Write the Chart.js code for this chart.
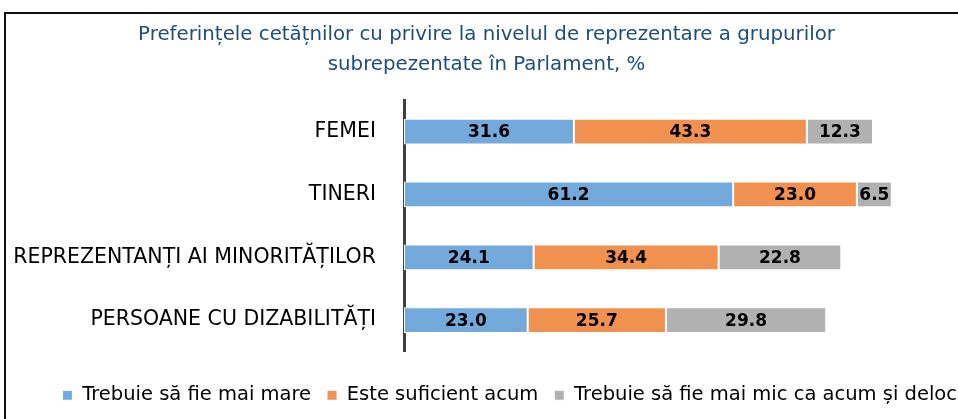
<!DOCTYPE html>
<html>
<head>
<meta charset="utf-8">
<script src="https://cdn.jsdelivr.net/npm/chart.js@4.4.1/dist/chart.umd.min.js"></script>
<style>
  body { margin: 0; background: #fff; }
  #wrap { position: relative; width: 958px; height: 419px; overflow: hidden; }
  #frame { position: absolute; left: 4px; top: 12px; width: 970px; height: 430px; border: 2px solid #111; box-sizing: border-box; }
  canvas { position: absolute; left: 0; top: 0; }
</style>
</head>
<body>
<div id="wrap">
  <div id="frame"></div>
  <canvas id="chart" width="958" height="419"></canvas>
</div>
<script>
'use strict';

// data

let categories = ['FEMEI', 'TINERI', 'REPREZENTANȚI AI MINORITĂȚILOR', 'PERSOANE CU DIZABILITĂȚI'];

let seriesNames = ['Trebuie să fie mai mare', 'Este suficient acum', 'Trebuie să fie mai mic ca acum și deloc'];

let moreValues = [31.6, 61.2, 24.1, 23.0];
let enoughValues = [43.3, 23.0, 34.4, 25.7];
let lessValues = [12.3, 6.5, 22.8, 29.8];

let seriesColors = ['#74A9DB', '#F09150', '#B1B1B1'];

let titleLines = ['Preferințele cetățnilor cu privire la nivelul de reprezentare a grupurilor', 'subrepezentate în Parlament, %'];

let canvasElem = document.getElementById('chart');

let fontName = 'DejaVu Sans';

// draws the numbers inside each bar segment
let barLabels = {
  id: 'barLabels',
  afterDatasetsDraw(chart) {
    let ctx = chart.ctx;
    ctx.save();
    ctx.font = 'bold 17px "' + fontName + '"';
    ctx.fillStyle = '#000';
    ctx.textAlign = 'center';
    ctx.textBaseline = 'middle';
    chart.data.datasets.forEach((ds, i) => {
      let meta = chart.getDatasetMeta(i);
      meta.data.forEach((bar, j) => {
        let cx = (bar.x + bar.base) / 2;
        ctx.fillText(ds.data[j].toFixed(1), cx, bar.y + 1);
      });
    });
    ctx.restore();
  }
};

let allValues = [moreValues, enoughValues, lessValues];
let datasets = [];
for (let i = 0; i < seriesNames.length; i++) {
  datasets.push({
    label: seriesNames[i],
    data: allValues[i],
    backgroundColor: seriesColors[i],
    borderColor: '#fff',
    borderWidth: 1,
    borderSkipped: false,
    categoryPercentage: 1,
    barPercentage: 0.41
  });
}

let chartObj = {
  type: 'bar',
  data: {
    labels: categories,
    datasets: datasets
  },
  options: {
    indexAxis: 'y',
    responsive: false,
    animation: false,
    layout: {
      // negative right padding lets the legend sit against the right edge
      padding: { left: 0, right: -15, top: 0, bottom: 4 }
    },
    scales: {
      x: {
        stacked: true,
        min: 0,
        max: 103,
        grid: { display: false },
        border: { display: false },
        ticks: { display: false },
        afterFit(scale) {
          scale.height = 18;
        }
      },
      y: {
        stacked: true,
        grid: { display: false, drawTicks: false },
        border: { display: true, color: '#404040', width: 3 },
        ticks: {
          color: '#000',
          font: { family: fontName, size: 20.5 },
          padding: 28
        },
        afterFit(scale) {
          scale.width = 404;
        }
      }
    },
    plugins: {
      title: {
        display: true,
        text: titleLines,
        color: '#1F4E79',
        font: { family: fontName, size: 19.8, weight: 'normal', lineHeight: 1.52 },
        padding: { top: 20, bottom: 20 }
      },
      legend: {
        position: 'bottom',
        align: 'end',
        labels: {
          color: '#000',
          font: { family: fontName, size: 19.5 },
          boxWidth: 10,
          boxHeight: 10,
          padding: 16
        }
      },
      tooltip: { enabled: false }
    }
  },
  plugins: [barLabels]
};

new Chart(canvasElem, chartObj);
</script>
</body>
</html>
